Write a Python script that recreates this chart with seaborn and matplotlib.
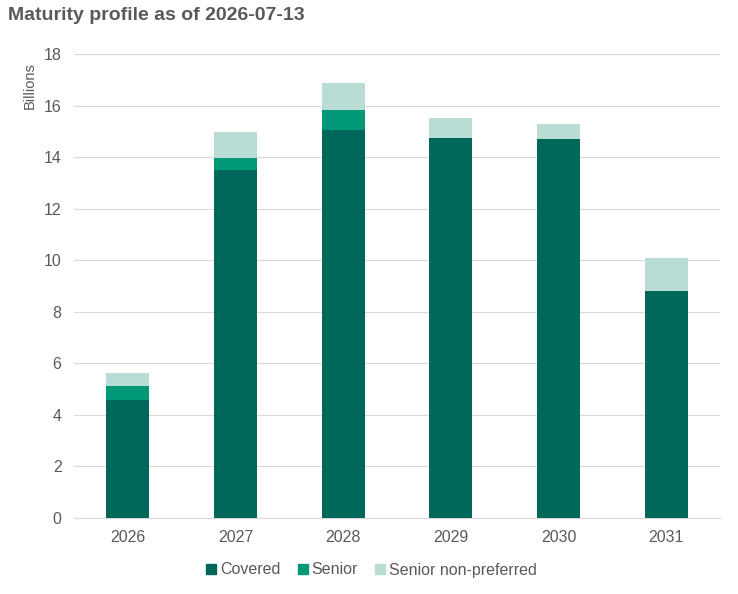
import matplotlib
matplotlib.use("Agg")
import matplotlib.pyplot as plt
from matplotlib.lines import Line2D
import seaborn as sns
import pandas as pd
import numpy as np

years = ["2026", "2027", "2028", "2029", "2030", "2031"]
covered = [4.56, 13.49, 15.05, 14.73, 14.70, 8.79]
senior = [0.55, 0.48, 0.77, 0.0, 0.0, 0.0]
senior_np = [0.53, 1.02, 1.07, 0.79, 0.60, 1.31]

series_names = ["Covered", "Senior", "Senior non-preferred"]
colors = ["#00685A", "#009877", "#B9DCD5"]

sns.set_theme(style="white")
plt.rcParams["font.family"] = ["Liberation Sans", "DejaVu Sans"]

df = pd.DataFrame({"year": years, "Covered": covered, "Senior": senior,
                   "Senior non-preferred": senior_np})
df["c1"] = df["Covered"]
df["c2"] = df["c1"] + df["Senior"]
df["c3"] = df["c2"] + df["Senior non-preferred"]

fig = plt.figure(figsize=(7.38, 5.94), dpi=100)
ax = fig.add_axes([74/738, 76/594, 646/738, 464/594])

for col, color in zip(["c3", "c2", "c1"], colors[::-1]):
    sns.barplot(data=df, x="year", y=col, color=color, width=0.4,
                saturation=1, ax=ax, linewidth=0, zorder=3)

ax.set_ylim(0, 18)
ax.set_yticks(np.arange(0, 19, 2))
ax.set_xlim(-0.5, 5.5)
ax.grid(axis="y", color="#D9D9D9", linewidth=0.8, zorder=0)
ax.set_axisbelow(True)
for s in ["top", "right", "left"]:
    ax.spines[s].set_visible(False)
ax.spines["bottom"].set_color("#D9D9D9")
ax.spines["bottom"].set_linewidth(0.8)
ax.set_xlabel("")
ax.set_ylabel("")
ax.tick_params(axis="y", length=0, pad=9, labelsize=11.5, labelcolor="#595959")
ax.tick_params(axis="x", length=0, pad=9, labelsize=11.5, labelcolor="#595959")

fig.text(8/738, 1 - 15/594, "Maturity profile as of 2026-07-13", fontsize=14,
         fontweight="bold", color="#595959", ha="left", va="center")
fig.text(30/738, 1 - 86/594, "Billions", fontsize=10.5, color="#595959",
         rotation=90, ha="center", va="center")

handles = [Line2D([0], [0], marker="s", linestyle="", markersize=7,
                  markerfacecolor=c, markeredgecolor=c) for c in colors]
fig.legend(handles, series_names, loc="center", bbox_to_anchor=(370/738, 1 - 570/594),
           ncol=3, frameon=False, fontsize=11.5, handletextpad=0.05,
           columnspacing=0.9, labelcolor="#595959", handlelength=1.0)

fig.savefig("out.png", dpi=100)
